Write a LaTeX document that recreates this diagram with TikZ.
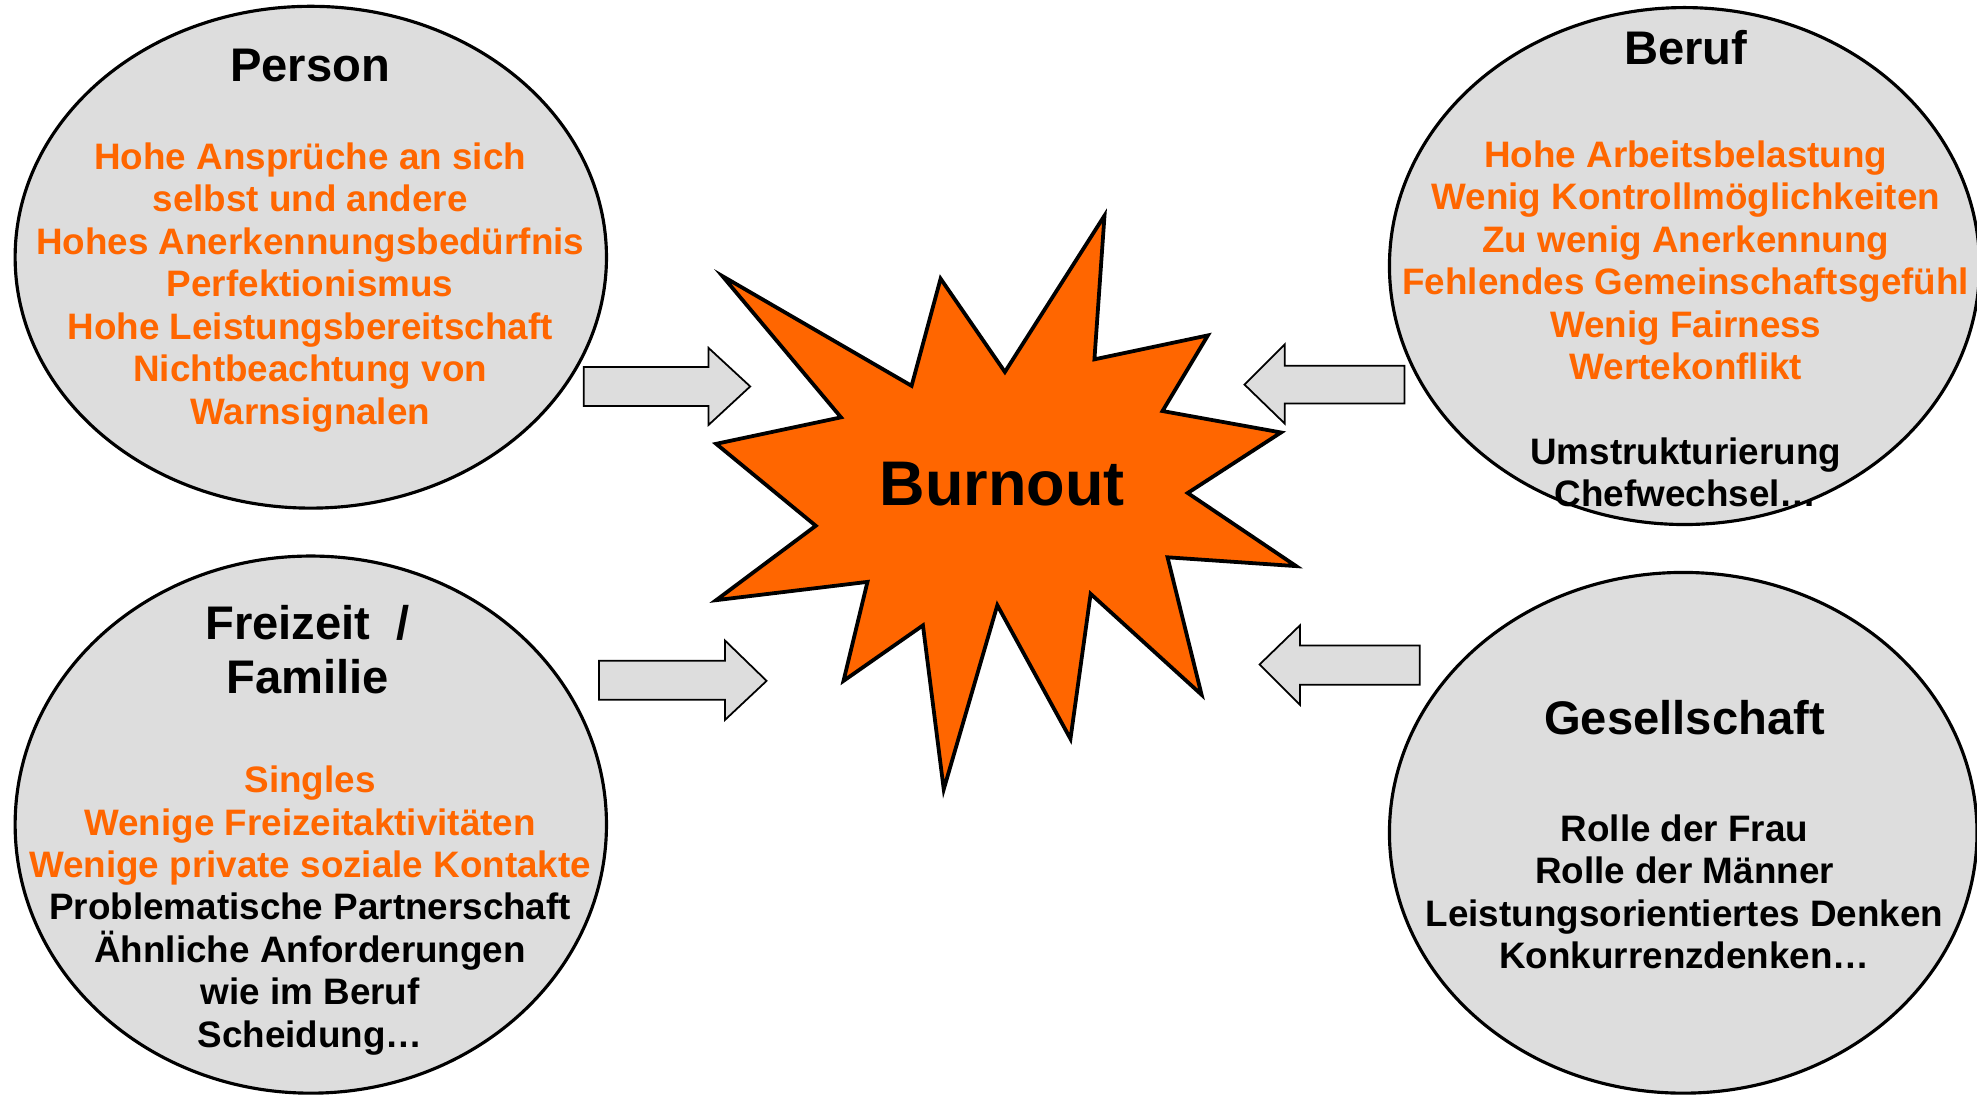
\documentclass[tikz,border=0pt]{standalone}
\usepackage{fontspec}
\setmainfont{Liberation Sans}
\usetikzlibrary{shapes.geometric}
\definecolor{burnorange}{RGB}{255,102,0}
\definecolor{feldgrau}{RGB}{221,221,221}
\tikzstyle{feld} = [draw, ellipse, fill=feldgrau, line width=1.25pt, inner sep=0pt]
\tikzstyle{titel} = [inner sep=0pt, align=center, font=\fontsize{18.7}{21.5}\selectfont\bfseries]
\tikzstyle{orangetext} = [inner sep=0pt, align=center, text=burnorange, font=\fontsize{14.6}{16.85}\selectfont\bfseries]
\tikzstyle{schwarztext} = [inner sep=0pt, align=center, font=\fontsize{14.6}{16.85}\selectfont\bfseries]
\tikzstyle{pfeil} = [draw, fill=feldgrau, line width=0.7pt]
\tikzstyle{stern} = [draw, fill=burnorange, line width=1.5pt]

\begin{document}
\begin{tikzpicture}[x=0.5pt, y=-0.5pt]
\useasboundingbox (0,0) rectangle (1568,868);
% Ellipsen
\node [feld, minimum width=234.5pt, minimum height=199pt] (person) at (246.5,204) {};
\node [feld, minimum width=234pt, minimum height=205pt] (beruf) at (1336,211) {};
\node [feld, minimum width=234.5pt, minimum height=213pt] (freizeit) at (246.5,654) {};
\node [feld, minimum width=233pt, minimum height=206.5pt] (gesell) at (1335,660.5) {};
% Stern
\draw [stern] (573,219) -- (723,306) -- (746,221) -- (797,295) -- (876,171) -- (868,285)
  -- (958,266) -- (922,326) -- (1016,343) -- (942,391) -- (1028,449) -- (926,442)
  -- (953,551) -- (865,471) -- (849,586) -- (791,480) -- (748.5,626) -- (732,496)
  -- (669,540) -- (688,461.5) -- (568,476) -- (647,417) -- (568,352) -- (667,331) -- cycle;
\node [inner sep=0pt, font=\fontsize{25}{30}\selectfont\bfseries] (burnout) at (795,384) {Burnout};
% Pfeile
\draw [pfeil] (463,291) -- (562,291) -- (562,276) -- (595,306.5) -- (562,337) -- (562,322) -- (463,322) -- cycle;
\draw [pfeil] (475,524) -- (575,524) -- (575,508) -- (608,540) -- (575,571) -- (575,555) -- (475,555) -- cycle;
\draw [pfeil] (1114,290) -- (1019,290) -- (1019,273) -- (987,305) -- (1019,336) -- (1019,320) -- (1114,320) -- cycle;
\draw [pfeil] (1126,512) -- (1031,512) -- (1031,496) -- (999,527) -- (1031,559) -- (1031,543) -- (1126,543) -- cycle;
% Person
\node [titel] (tperson) at (246,52) {Person};
\node [orangetext] (operson) at (246,228) {Hohe Ansprüche an sich\\selbst und andere\\Hohes Anerkennungsbedürfnis\\Perfektionismus\\Hohe Leistungsbereitschaft\\Nichtbeachtung von\\Warnsignalen};
% Beruf
\node [titel] (tberuf) at (1337,38) {Beruf};
\node [orangetext] (oberuf) at (1337,206.5) {Hohe Arbeitsbelastung\\Wenig Kontrollmöglichkeiten\\Zu wenig Anerkennung\\Fehlendes Gemeinschaftsgefühl\\Wenig Fairness\\Wertekonflikt};
\node [schwarztext] (sberuf) at (1337,374.5) {Umstrukturierung\\Chefwechsel…};
% Freizeit / Familie
\node [titel] (tfreizeit) at (244,515.5) {Freizeit\ \ /\\Familie};
\node [orangetext] (ofreizeit) at (246,655) {Singles\\Wenige Freizeitaktivitäten\\Wenige private soziale Kontakte};
\node [schwarztext] (sfreizeit) at (246,772.5) {Problematische Partnerschaft\\Ähnliche Anforderungen\\wie im Beruf\\Scheidung…};
% Gesellschaft
\node [titel] (tgesell) at (1336,569) {Gesellschaft};
\node [schwarztext] (sgesell) at (1336,707.5) {Rolle der Frau\\Rolle der Männer\\Leistungsorientiertes Denken\\Konkurrenzdenken…};
\end{tikzpicture}
\end{document}
